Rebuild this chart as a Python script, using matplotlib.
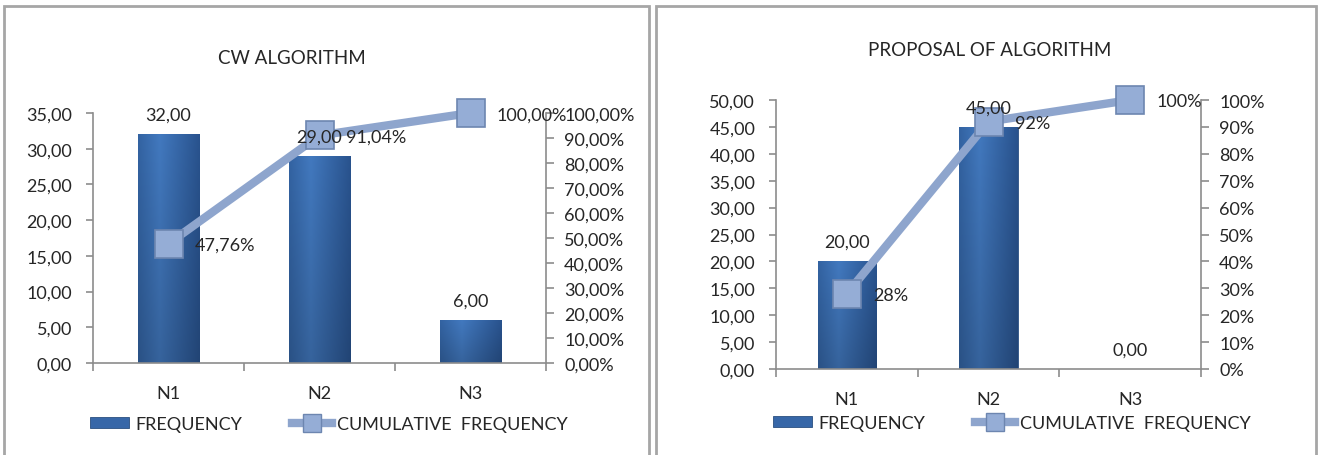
import numpy as np
import matplotlib
matplotlib.use("Agg")
import matplotlib.pyplot as plt
from matplotlib.patches import Rectangle
from matplotlib.lines import Line2D
from matplotlib.ticker import FixedLocator

plt.rcParams['font.family'] = ['Lato', 'DejaVu Sans']
plt.rcParams['font.size'] = 13

# data
categories = ['N1', 'N2', 'N3']

cw_freq = [32.0, 29.0, 6.0]
cw_cum = [0.4776, 0.9104, 1.0]
cw_cum_labels = ['47,76%', '91,04%', '100,00%']

prop_freq = [20.0, 45.0, 0.0]
prop_cum = [0.28, 0.92, 1.0]
prop_cum_labels = ['28%', '92%', '100%']

TEXT = '#262626'
AXIS = '#8C8C8C'
LINE_C = '#8EA5CD'
MARK_FC = '#95ADD6'
MARK_EC = '#6D86B0'
W, H = 1322, 456

fig = plt.figure(figsize=(W / 100, H / 100), dpi=100)
fig.patch.set_facecolor('white')


def px_axes(x0, x1, ytop, ybot):
    return fig.add_axes([x0 / W, (H - ybot) / H, (x1 - x0) / W, (ybot - ytop) / H])


def bar_gradient(ax, bar):
    x, y = bar.get_x(), bar.get_y()
    w, h = bar.get_width(), bar.get_height()
    if h <= 0:
        return
    left = np.array([0x33, 0x63, 0xA2]) / 255
    mid = np.array([0x42, 0x79, 0xBF]) / 255
    right = np.array([0x29, 0x53, 0x8E]) / 255
    t = np.linspace(0, 1, 60)
    horiz = np.where(t[:, None] < 0.35,
                     left + (mid - left) * (t[:, None] / 0.35),
                     mid + (right - mid) * ((t[:, None] - 0.35) / 0.65))
    v = np.linspace(1.0, 0.82, 80)[:, None, None]
    img = np.clip(horiz[None, :, :] * v, 0, 1)
    im = ax.imshow(img, extent=[x, x + w, y, y + h], aspect='auto',
                   origin='upper', zorder=bar.get_zorder() + 0.1, interpolation='bilinear')
    im.set_clip_path(bar)


def draw_chart(rect, title, title_xy, freq, cum, cum_labels, ymax, pct_fmt, legend_xy):
    x0, x1, ytop, ybot = rect
    ax = px_axes(x0, x1, ytop, ybot)
    xs = np.arange(len(categories))
    bars = ax.bar(xs, freq, width=0.41, color='#3A6FB2', edgecolor='#2A4F80',
                  linewidth=0.6, zorder=2)
    for b in bars:
        bar_gradient(ax, b)

    ax.set_xlim(-0.5, len(categories) - 0.5)
    ax.set_ylim(0, ymax)
    ax.set_yticks(np.arange(0, ymax + 0.1, 5))
    ax.set_yticklabels([f'{t:.2f}'.replace('.', ',') for t in np.arange(0, ymax + 0.1, 5)])
    ax.set_xticks(xs)
    ax.set_xticklabels(categories)
    ax.xaxis.set_minor_locator(FixedLocator(np.arange(-0.5, len(categories), 1.0)))
    ax.tick_params(axis='x', which='major', length=0, pad=16, colors=TEXT, labelsize=13)
    ax.tick_params(axis='x', which='minor', length=6, width=1.2, color=AXIS, direction='out')
    ax.tick_params(axis='y', length=5, width=1.2, color=AXIS, pad=10, labelcolor=TEXT,
                   labelsize=13)
    for s in ['top', 'right']:
        ax.spines[s].set_visible(False)
    for s in ['left', 'bottom']:
        ax.spines[s].set_color(AXIS)
        ax.spines[s].set_linewidth(1.2)

    ax2 = ax.twinx()
    ax2.plot(xs, cum, color=LINE_C, linewidth=6, solid_capstyle='round',
             marker='s', markersize=20, markerfacecolor=MARK_FC,
             markeredgecolor=MARK_EC, markeredgewidth=1.2, zorder=4, clip_on=False)
    for xi, v, lab in zip(xs, cum, cum_labels):
        ax2.annotate(lab, (xi, v), xytext=(19, -1), textcoords='offset points',
                     ha='left', va='center', color=TEXT, fontsize=13, zorder=5)
    # bar value labels sit above the line and markers
    for xi, v in zip(xs, freq):
        ax2.annotate(f'{v:.2f}'.replace('.', ','), (xi, v), xycoords=ax.transData,
                     xytext=(0, 14), textcoords='offset points', ha='center',
                     va='center', color=TEXT, fontsize=13, zorder=6)
    ax2.set_ylim(0, 1)
    pticks = np.arange(0, 1.001, 0.1)
    ax2.set_yticks(pticks)
    ax2.set_yticklabels([pct_fmt(t) for t in pticks])
    ax2.tick_params(axis='y', length=6, width=1.2, color=AXIS, pad=7, labelcolor=TEXT,
                    labelsize=13)
    for s in ['top', 'left', 'bottom']:
        ax2.spines[s].set_visible(False)
    ax2.spines['right'].set_color(AXIS)
    ax2.spines['right'].set_linewidth(1.2)

    fig.text(title_xy[0] / W, 1 - title_xy[1] / H, title, ha='center', va='center',
             color=TEXT, fontsize=13.5)

    handles = [
        Rectangle((0, 0), 1, 1, facecolor='#3767A8', edgecolor='#2A4F80', linewidth=0.6),
        Line2D([], [], color=LINE_C, linewidth=6, marker='s', markersize=13,
               markerfacecolor=MARK_FC, markeredgecolor=MARK_EC),
    ]
    fig.legend(handles, ['FREQUENCY', 'CUMULATIVE  FREQUENCY'], ncol=2, frameon=False,
               loc='center', bbox_to_anchor=(legend_xy[0] / W, 1 - legend_xy[1] / H),
               handlelength=2.2, handleheight=0.55, handletextpad=0.3,
               columnspacing=2.8, fontsize=13, labelcolor=TEXT)
    return ax


draw_chart((93, 546, 114, 364), 'CW ALGORITHM', (292, 58), cw_freq, cw_cum,
           cw_cum_labels, 35, lambda t: f'{t * 100:.2f}%'.replace('.', ','), (329, 425))
draw_chart((776, 1201, 101, 370), 'PROPOSAL OF ALGORITHM', (990, 50), prop_freq, prop_cum,
           prop_cum_labels, 50, lambda t: f'{t * 100:.0f}%', (1012, 424))

# panel frames
for px0, px1 in [(4, 649), (656, 1316)]:
    fig.patches.append(Rectangle((px0 / W, -0.05), (px1 - px0) / W, 1 - 7 / H + 0.05,
                                 transform=fig.transFigure, fill=False,
                                 edgecolor='#A6A6A6', linewidth=2))

fig.savefig('out.png', dpi=100)
